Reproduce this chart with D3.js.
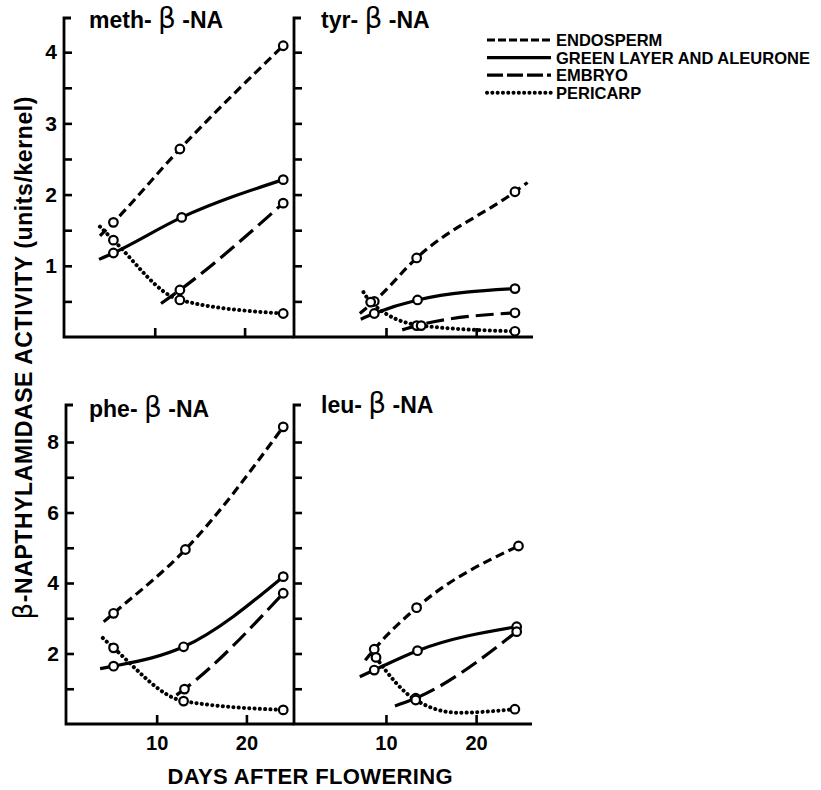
<!DOCTYPE html>
<html>
<head>
<meta charset="utf-8">
<script src="https://cdn.jsdelivr.net/npm/d3@7"></script>
<style>
  body { margin: 0; background: #fff; }
  svg { display: block; }
</style>
</head>
<body>
<svg id="chart" width="821" height="790"></svg>
<script>
// each point: [day after flowering, activity, 1 = measured point (circle) / 0 = curve end only]
const tissues = ['ENDOSPERM', 'GREEN LAYER AND ALEURONE', 'EMBRYO', 'PERICARP']
const substrates = ['meth-', 'tyr-', 'phe-', 'leu-']
const dayTicks = [10, 20]
const topTicks = [0.5, 1, 1.5, 2, 2.5, 3, 3.5, 4]
const topLabels = [1, 2, 3, 4]
const bottomTicks = [1, 2, 3, 4, 5, 6, 7, 8]
const bottomLabels = [2, 4, 6, 8]

const methEndosperm = [[3.9, 1.42, 0], [5.4, 1.61, 1], [12.8, 2.64, 1], [24.3, 4.09, 1]]
const methGreen     = [[3.8, 1.09, 0], [5.4, 1.18, 1], [13.0, 1.68, 1], [24.3, 2.21, 1]]
const methEmbryo    = [[10.7, 0.47, 0], [12.8, 0.66, 1], [24.3, 1.88, 1]]
const methPericarp  = [[3.9, 1.55, 0], [5.4, 1.36, 1], [12.8, 0.52, 1], [24.3, 0.33, 1]]

const tyrEndosperm = [[7.1, 0.33, 0], [8.7, 0.50, 1], [13.4, 1.11, 1], [24.3, 2.04, 1], [25.7, 2.17, 0]]
const tyrGreen     = [[7.2, 0.25, 0], [8.7, 0.33, 1], [13.5, 0.52, 1], [24.3, 0.68, 1]]
const tyrEmbryo    = [[11.8, 0.10, 0], [13.4, 0.16, 1], [24.3, 0.34, 1]]
const tyrPericarp  = [[7.5, 0.63, 0], [8.3, 0.49, 1], [13.9, 0.16, 1], [24.3, 0.08, 1]]

const pheEndosperm = [[4.1, 2.90, 0], [5.2, 3.14, 1], [13.2, 4.95, 1], [24.1, 8.43, 1]]
const pheGreen     = [[3.7, 1.57, 0], [5.2, 1.64, 1], [13.0, 2.19, 1], [24.1, 4.18, 1]]
const pheEmbryo    = [[12.2, 0.82, 0], [13.1, 0.99, 1], [24.1, 3.71, 1]]
const phePericarp  = [[4.0, 2.44, 0], [5.2, 2.16, 1], [13.0, 0.65, 1], [24.1, 0.40, 1]]

const leuEndosperm = [[7.7, 1.81, 0], [8.7, 2.12, 1], [13.4, 3.30, 1], [24.7, 5.05, 1]]
const leuGreen     = [[7.1, 1.34, 0], [8.7, 1.53, 1], [13.5, 2.08, 1], [24.5, 2.76, 1]]
const leuEmbryo    = [[11.0, 0.51, 0], [13.3, 0.73, 1], [24.5, 2.62, 1]]
const leuPericarp  = [[8.6, 2.00, 0], [8.9, 1.89, 1], [13.3, 0.68, 1], [18.0, 0.32, 0], [24.3, 0.42, 1]]

const font = "'Liberation Sans', Arial, sans-serif"

// line look per tissue
const styles = [
  { dash: '9 5', width: 3.2, cap: 'butt' },
  { dash: null, width: 3.2, cap: 'butt' },
  { dash: '18 7', width: 3.2, cap: 'butt' },
  { dash: '0.1 5.2', width: 4, cap: 'round' }
]

const panels = [
  { name: substrates[0], series: [methEndosperm, methGreen, methEmbryo, methPericarp],
    xr: [64, 294], xd: [-0.1, 25.5], yr: [337, 18], yd: [0, 4.48], ticks: topTicks, labels: topLabels,
    xLabels: false, title: [89, 28] },
  { name: substrates[1], series: [tyrEndosperm, tyrGreen, tyrEmbryo, tyrPericarp],
    xr: [294, 533], xd: [-0.2, 26.3], yr: [337, 18], yd: [0, 4.48], ticks: topTicks, labels: [],
    xLabels: false, title: [321, 28] },
  { name: substrates[2], series: [pheEndosperm, pheGreen, pheEmbryo, phePericarp],
    xr: [66, 294], xd: [-0.1, 25.3], yr: [724, 405], yd: [0, 9.05], ticks: bottomTicks, labels: bottomLabels,
    xLabels: true, title: [89, 417] },
  { name: substrates[3], series: [leuEndosperm, leuGreen, leuEmbryo, leuPericarp],
    xr: [294, 532], xd: [-0.2, 26.2], yr: [724, 405], yd: [0, 9.05], ticks: bottomTicks, labels: [],
    xLabels: true, title: [321, 413] }
]

const svg = d3.select('#chart')

panels.forEach(p => {
  let x = d3.scaleLinear().domain(p.xd).range(p.xr)
  let y = d3.scaleLinear().domain(p.yd).range(p.yr)
  let g = svg.append('g')

  // axis frame: top serif, y axis, x axis
  g.append('path')
    .attr('d', `M${p.xr[0] + 7},${p.yr[1]} H${p.xr[0]} V${p.yr[0]} H${p.xr[1]}`)
    .attr('fill', 'none')
    .attr('stroke', '#000')
    .attr('stroke-width', 2.8)

  let yAxis = g.append('g')
    .attr('transform', `translate(${p.xr[0]},0)`)
    .call(d3.axisLeft(y).tickValues(p.ticks).tickSizeInner(-8).tickSizeOuter(0).tickPadding(7)
      .tickFormat(d => p.labels.includes(d) ? d : ''))
  yAxis.select('.domain').remove()
  yAxis.selectAll('line').attr('stroke', '#000').attr('stroke-width', 2.6)
  yAxis.selectAll('text')
    .attr('font-family', font).attr('font-weight', 'bold').attr('font-size', 21).attr('fill', '#000')

  let xAxis = g.append('g')
    .attr('transform', `translate(0,${p.yr[0]})`)
    .call(d3.axisBottom(x).tickValues(dayTicks).tickSizeInner(-9).tickSizeOuter(0).tickPadding(12)
      .tickFormat(d => p.xLabels ? d : ''))
  xAxis.select('.domain').remove()
  xAxis.selectAll('line').attr('stroke', '#000').attr('stroke-width', 2.6)
  xAxis.selectAll('text')
    .attr('font-family', font).attr('font-weight', 'bold').attr('font-size', 20).attr('fill', '#000')

  // panel title
  let t = g.append('text')
    .attr('x', p.title[0]).attr('y', p.title[1])
    .attr('font-family', font).attr('fill', '#000')
  t.append('tspan').attr('font-weight', 'bold').attr('font-size', 23).text(p.name + '  ')
  t.append('tspan').attr('font-size', 28).attr('font-family', "'DejaVu Sans', sans-serif").text('β')
  t.append('tspan').attr('font-weight', 'bold').attr('font-size', 23).text(' -NA')

  let line = d3.line()
    .x(d => x(d[0]))
    .y(d => y(d[1]))
    .curve(d3.curveMonotoneX)

  p.series.forEach((s, i) => {
    let st = styles[i]
    g.append('path')
      .datum(s)
      .attr('d', line)
      .attr('fill', 'none')
      .attr('stroke', '#000')
      .attr('stroke-width', st.width)
      .attr('stroke-linecap', st.cap)
      .attr('stroke-dasharray', st.dash)
  })

  p.series.forEach(s => {
    g.selectAll(null)
      .data(s.filter(d => d[2] === 1))
      .enter()
      .append('circle')
      .attr('cx', d => x(d[0]))
      .attr('cy', d => y(d[1]))
      .attr('r', 4.3)
      .attr('fill', '#fff')
      .attr('stroke', '#000')
      .attr('stroke-width', 2.2)
  })
})

// legend
let legend = svg.append('g')
tissues.forEach((name, i) => {
  let st = styles[i]
  let cy = 40 + i * 17.6
  legend.append('line')
    .attr('x1', 487).attr('x2', 551)
    .attr('y1', cy).attr('y2', cy)
    .attr('stroke', '#000')
    .attr('stroke-width', st.width)
    .attr('stroke-linecap', st.cap)
    .attr('stroke-dasharray', i === 0 ? '8 3' : i === 2 ? '16 4' : st.dash)
  legend.append('text')
    .attr('x', 556).attr('y', cy + 6)
    .attr('font-family', font).attr('font-weight', 'bold').attr('font-size', 16.5)
    .text(name)
})

// axis titles
let yTitle = svg.append('text')
  .attr('transform', 'translate(32,358) rotate(-90)')
  .attr('text-anchor', 'middle')
  .attr('font-family', font).attr('font-size', 23).attr('fill', '#000')
  .attr('textLength', 523).attr('lengthAdjust', 'spacing')
yTitle.append('tspan').attr('font-family', "'DejaVu Sans', sans-serif").attr('font-size', 26).text('β')
yTitle.append('tspan').attr('font-weight', 'bold').text('-NAPTHYLAMIDASE ACTIVITY (units/kernel)')

svg.append('text')
  .attr('x', 310).attr('y', 784)
  .attr('text-anchor', 'middle')
  .attr('font-family', font).attr('font-weight', 'bold').attr('font-size', 22)
  .attr('textLength', 285).attr('lengthAdjust', 'spacing')
  .text('DAYS AFTER FLOWERING')
</script>
</body>
</html>
